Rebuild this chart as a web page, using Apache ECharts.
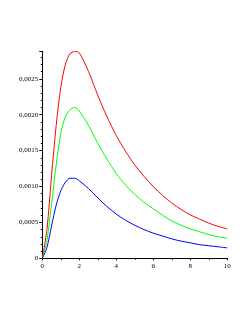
<!DOCTYPE html>
<html>
<head>
<meta charset="utf-8">
<script src="https://cdn.jsdelivr.net/npm/echarts@6/dist/echarts.min.js"></script>
<style>
html,body{margin:0;padding:0;background:#fff;}
#chart{width:249px;height:323px;}
</style>
</head>
<body>
<div id="chart"></div>
<script>
var xs = [0, 0.25, 0.5, 0.75, 1.0, 1.25, 1.5, 1.75, 2.0, 2.5, 3.0, 3.5, 4.0, 4.5, 5.0, 5.5, 6.0, 6.5, 7.0, 7.5, 8.0, 8.5, 9.0, 9.5, 10.0];
var redVals = [0, 0.00040, 0.00115, 0.00185, 0.00238, 0.00270, 0.00285, 0.00288, 0.00286, 0.00260, 0.00227, 0.00197, 0.00171, 0.00149, 0.00130, 0.00114, 0.00100, 0.000875, 0.00077, 0.00068, 0.000605, 0.000545, 0.00049, 0.000445, 0.00041];
var greenVals = [0, 0.00025, 0.00075, 0.00130, 0.00174, 0.00197, 0.00207, 0.00210, 0.00205, 0.00185, 0.00160, 0.00138, 0.00118, 0.00102, 0.00089, 0.00078, 0.00069, 0.00060, 0.00052, 0.00046, 0.00041, 0.00037, 0.00033, 0.00030, 0.00028];
var blueVals = [0, 0.00015, 0.00045, 0.00074, 0.00094, 0.00106, 0.001115, 0.001115, 0.00108, 0.00097, 0.00084, 0.00072, 0.000615, 0.00053, 0.00046, 0.00040, 0.00035, 0.00031, 0.00027, 0.00024, 0.000215, 0.00019, 0.000175, 0.00016, 0.000145];
var xTicks = [0, 2, 4, 6, 8, 10];
var yTicks = [0, 0.0005, 0.0010, 0.0015, 0.0020, 0.0025];

function pairs(v){ return xs.map(function(x,i){ return [x, v[i]]; }); }

var chart = echarts.init(document.getElementById('chart'), null, {renderer:'canvas'});
var font = {fontFamily:'"Liberation Serif", "Times New Roman", serif', fontSize:7, color:'#000'};
chart.setOption({
  animation:false,
  backgroundColor:'#fff',
  grid:{left:42.3, right:21.7, top:51.5, bottom:64.7, containLabel:false},
  xAxis:{
    type:'value', min:xTicks[0], max:xTicks[xTicks.length-1], interval:2,
    axisLine:{show:true, lineStyle:{color:'#000', width:1}},
    axisTick:{show:true, length:2, lineStyle:{color:'#000'}},
    minorTick:{show:true, splitNumber:2, length:1.5, lineStyle:{color:'#000'}},
    splitLine:{show:false},
    axisLabel:Object.assign({margin:4, formatter:function(v){return String(v);}}, font)
  },
  yAxis:{
    type:'value', min:0, max:0.00288, interval:0.0005,
    axisLine:{show:true, lineStyle:{color:'#000', width:1}},
    axisTick:{show:true, length:3, lineStyle:{color:'#000'}},
    minorTick:{show:true, splitNumber:5, length:1.5, lineStyle:{color:'#000'}},
    splitLine:{show:false},
    axisLabel:Object.assign({margin:4, showMaxLabel:false, formatter:function(v){
      if (v === 0) return '0';
      var hit = yTicks.some(function(t){return Math.abs(t-v)<1e-9;});
      return hit ? v.toFixed(4).replace('.', ',') : '';
    }}, font)
  },
  series:[
    {type:'line', data:pairs(redVals), smooth:0.3, showSymbol:false, lineStyle:{color:'#ff0000', width:1}, clip:false},
    {type:'line', data:pairs(greenVals), smooth:0.3, showSymbol:false, lineStyle:{color:'#00ff00', width:1}, clip:false},
    {type:'line', data:pairs(blueVals), smooth:0.3, showSymbol:false, lineStyle:{color:'#0000ff', width:1}, clip:false}
  ]
});
</script>
</body>
</html>
